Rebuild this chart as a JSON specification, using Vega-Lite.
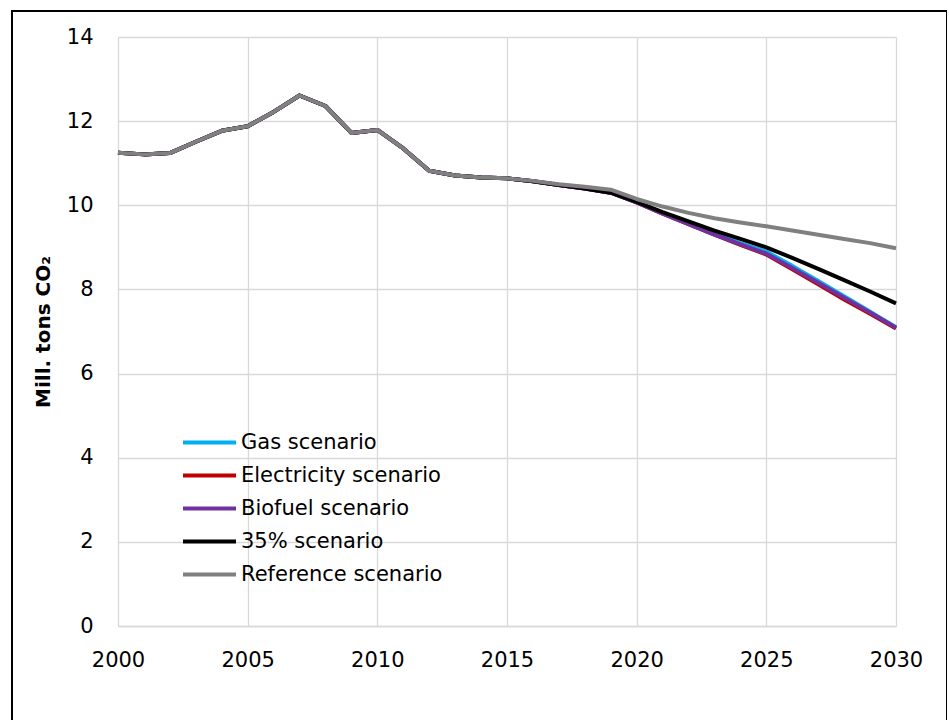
{
  "$schema": "https://vega.github.io/schema/vega-lite/v6.json",
  "autosize": {"type": "none"},
  "padding": {"left": 12, "top": 11, "right": 0, "bottom": 0},
  "width": 935,
  "height": 715,
  "background": "white",
  "config": {"view": {"stroke": "#000000", "strokeWidth": 2}, "font": "DejaVu Sans"},
  "data": {"values": [
    {"Year": 2000, "Gas scenario": 11.25, "Electricity scenario": 11.25, "Biofuel scenario": 11.25, "35% scenario": 11.25, "Reference scenario": 11.25},
    {"Year": 2001, "Gas scenario": 11.21, "Electricity scenario": 11.21, "Biofuel scenario": 11.21, "35% scenario": 11.21, "Reference scenario": 11.21},
    {"Year": 2002, "Gas scenario": 11.24, "Electricity scenario": 11.24, "Biofuel scenario": 11.24, "35% scenario": 11.24, "Reference scenario": 11.24},
    {"Year": 2003, "Gas scenario": 11.51, "Electricity scenario": 11.51, "Biofuel scenario": 11.51, "35% scenario": 11.51, "Reference scenario": 11.51},
    {"Year": 2004, "Gas scenario": 11.77, "Electricity scenario": 11.77, "Biofuel scenario": 11.77, "35% scenario": 11.77, "Reference scenario": 11.77},
    {"Year": 2005, "Gas scenario": 11.88, "Electricity scenario": 11.88, "Biofuel scenario": 11.88, "35% scenario": 11.88, "Reference scenario": 11.88},
    {"Year": 2006, "Gas scenario": 12.22, "Electricity scenario": 12.22, "Biofuel scenario": 12.22, "35% scenario": 12.22, "Reference scenario": 12.22},
    {"Year": 2007, "Gas scenario": 12.61, "Electricity scenario": 12.61, "Biofuel scenario": 12.61, "35% scenario": 12.61, "Reference scenario": 12.61},
    {"Year": 2008, "Gas scenario": 12.36, "Electricity scenario": 12.36, "Biofuel scenario": 12.36, "35% scenario": 12.36, "Reference scenario": 12.36},
    {"Year": 2009, "Gas scenario": 11.72, "Electricity scenario": 11.72, "Biofuel scenario": 11.72, "35% scenario": 11.72, "Reference scenario": 11.72},
    {"Year": 2010, "Gas scenario": 11.79, "Electricity scenario": 11.79, "Biofuel scenario": 11.79, "35% scenario": 11.79, "Reference scenario": 11.79},
    {"Year": 2011, "Gas scenario": 11.35, "Electricity scenario": 11.35, "Biofuel scenario": 11.35, "35% scenario": 11.35, "Reference scenario": 11.35},
    {"Year": 2012, "Gas scenario": 10.82, "Electricity scenario": 10.82, "Biofuel scenario": 10.82, "35% scenario": 10.82, "Reference scenario": 10.82},
    {"Year": 2013, "Gas scenario": 10.71, "Electricity scenario": 10.71, "Biofuel scenario": 10.71, "35% scenario": 10.71, "Reference scenario": 10.71},
    {"Year": 2014, "Gas scenario": 10.66, "Electricity scenario": 10.66, "Biofuel scenario": 10.66, "35% scenario": 10.66, "Reference scenario": 10.66},
    {"Year": 2015, "Gas scenario": 10.64, "Electricity scenario": 10.64, "Biofuel scenario": 10.64, "35% scenario": 10.64, "Reference scenario": 10.64},
    {"Year": 2016, "Gas scenario": 10.57, "Electricity scenario": 10.57, "Biofuel scenario": 10.57, "35% scenario": 10.57, "Reference scenario": 10.58},
    {"Year": 2017, "Gas scenario": 10.48, "Electricity scenario": 10.48, "Biofuel scenario": 10.48, "35% scenario": 10.48, "Reference scenario": 10.5},
    {"Year": 2018, "Gas scenario": 10.4, "Electricity scenario": 10.4, "Biofuel scenario": 10.4, "35% scenario": 10.4, "Reference scenario": 10.44},
    {"Year": 2019, "Gas scenario": 10.3, "Electricity scenario": 10.3, "Biofuel scenario": 10.3, "35% scenario": 10.3, "Reference scenario": 10.37},
    {"Year": 2020, "Gas scenario": 10.07, "Electricity scenario": 10.07, "Biofuel scenario": 10.07, "35% scenario": 10.08, "Reference scenario": 10.15},
    {"Year": 2021, "Gas scenario": 9.82, "Electricity scenario": 9.8, "Biofuel scenario": 9.8, "35% scenario": 9.84, "Reference scenario": 9.97},
    {"Year": 2022, "Gas scenario": 9.57, "Electricity scenario": 9.55, "Biofuel scenario": 9.55, "35% scenario": 9.62, "Reference scenario": 9.82},
    {"Year": 2023, "Gas scenario": 9.33, "Electricity scenario": 9.3, "Biofuel scenario": 9.3, "35% scenario": 9.4, "Reference scenario": 9.69},
    {"Year": 2024, "Gas scenario": 9.1, "Electricity scenario": 9.06, "Biofuel scenario": 9.07, "35% scenario": 9.2, "Reference scenario": 9.59},
    {"Year": 2025, "Gas scenario": 8.9, "Electricity scenario": 8.83, "Biofuel scenario": 8.85, "35% scenario": 9.0, "Reference scenario": 9.5},
    {"Year": 2026, "Gas scenario": 8.56, "Electricity scenario": 8.48, "Biofuel scenario": 8.51, "35% scenario": 8.75, "Reference scenario": 9.4},
    {"Year": 2027, "Gas scenario": 8.2, "Electricity scenario": 8.12, "Biofuel scenario": 8.16, "35% scenario": 8.49, "Reference scenario": 9.3},
    {"Year": 2028, "Gas scenario": 7.84, "Electricity scenario": 7.76, "Biofuel scenario": 7.8, "35% scenario": 8.22, "Reference scenario": 9.2},
    {"Year": 2029, "Gas scenario": 7.47, "Electricity scenario": 7.42, "Biofuel scenario": 7.45, "35% scenario": 7.95, "Reference scenario": 9.1},
    {"Year": 2030, "Gas scenario": 7.1, "Electricity scenario": 7.07, "Biofuel scenario": 7.09, "35% scenario": 7.67, "Reference scenario": 8.98}
  ]},
  "transform": [
    {"fold": ["Gas scenario", "Electricity scenario", "Biofuel scenario", "35% scenario", "Reference scenario"], "as": ["Scenario", "Value"]}
  ],
  "mark": {"type": "line", "strokeWidth": 4, "strokeJoin": "round"},
  "encoding": {
    "x": {
      "field": "Year", "type": "quantitative",
      "scale": {"domain": [2000, 2030], "range": [106, 884], "nice": false, "zero": false},
      "axis": {
        "title": null, "grid": false, "values": [2000, 2005, 2010, 2015, 2020, 2025, 2030], "format": "d",
        "offset": -100, "tickSize": -589, "tickColor": "#d9d9d9", "tickWidth": 1.3,
        "domainColor": "#d9d9d9", "domainWidth": 1.3,
        "labelFontSize": 21, "labelColor": "#000000", "labelPadding": 612, "labelBaseline": "top",
        "labelFlush": false, "labelOverlap": false
      }
    },
    "y": {
      "field": "Value", "type": "quantitative",
      "scale": {"domain": [0, 14], "range": [615, 26], "nice": false},
      "axis": {
        "title": "Mill. tons CO₂", "grid": false, "values": [0, 2, 4, 6, 8, 10, 12, 14],
        "offset": -106, "tickSize": -778, "tickColor": "#d9d9d9", "tickWidth": 1.3, "domain": false,
        "labelFontSize": 21, "labelColor": "#000000", "labelPadding": 803, "labelAlign": "right",
        "titleFontSize": 20, "titleFontWeight": "bold", "titleColor": "#000000", "titlePadding": 13
      }
    },
    "color": {
      "field": "Scenario", "type": "nominal",
      "scale": {
        "domain": ["Gas scenario", "Electricity scenario", "Biofuel scenario", "35% scenario", "Reference scenario"],
        "range": ["#00B0F0", "#C00000", "#7030A0", "#000000", "#808080"]
      },
      "legend": {
        "title": null, "orient": "none", "legendX": 169, "legendY": 415,
        "symbolType": "stroke", "symbolSize": 2809, "symbolStrokeWidth": 4,
        "labelFontSize": 21, "labelColor": "#000000", "labelOffset": 3, "labelLimit": 400,
        "clipHeight": 33, "rowPadding": 0, "symbolOffset": 0
      }
    }
  }
}
